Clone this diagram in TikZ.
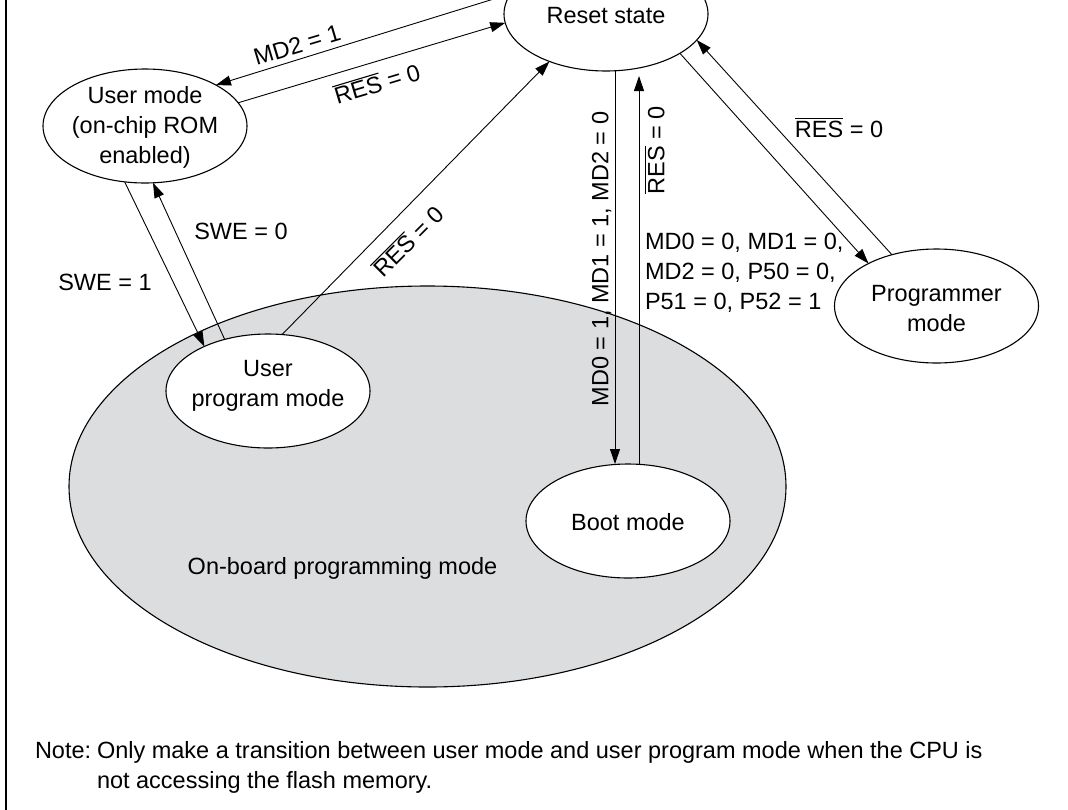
\documentclass[tikz,border=0pt]{standalone}
\usepackage{fontspec}
\setmainfont{Liberation Sans}
\usetikzlibrary{arrows.meta,shapes.geometric}
\definecolor{obgray}{HTML}{DCDDDF}
\newcommand\ovl[1]{\vbox{\hrule height 1.1pt\kern1.6pt\hbox{#1}}}
\begin{document}
\begin{tikzpicture}[x=1pt,y=-1pt,
  every node/.style={font=\fontsize{23.5}{30}\selectfont, inner sep=0pt, outer sep=0pt},
  state/.style={draw, ellipse, fill=white, line width=1.1pt, minimum width=204pt, minimum height=114pt},
  arr/.style={-{Triangle[length=15pt,width=10pt]}, line width=0.9pt},
  txt/.style={align=center}]
\useasboundingbox (0,0) rectangle (1068,809);
\clip (0,0) rectangle (1068,809);
% frame line
\draw[line width=2pt] (6,-2) coordinate (ft) -- (6,811) coordinate (fb);
% on-board programming region
\node[draw, ellipse, fill=obgray, line width=1.1pt, minimum width=717pt, minimum height=401pt] (obp) at (427.5,486.5) {};
\node (obplbl) at (342.5,568) {On-board programming mode};
% states
\node[state] (reset) at (606,14) {};
\node[txt] (resett) at (606,16) {Reset state};
\node[state] (um) at (145,126) {};
\node[txt] (umt) at (145,127) {User mode\\(on-chip ROM\\enabled)};
\node[state] (up) at (268,391) {};
\node[txt] (upt) at (268,386) {User\\program mode};
\node[state] (boot) at (628,521) {};
\node[txt] (boott) at (628,522) {Boot mode};
\node[state] (prog) at (936.5,306) {};
\node[txt] (progt) at (936.5,309) {Programmer\\mode};
% connectors
\draw[arr] (reset.168) -- (um.30);
\draw[arr] (um.14) -- (reset.185);
\draw[arr] (um.-110) -- (up.145);
\draw[arr] (up.130) -- (um.-82);
\draw[arr] (up.76) -- (reset.-140);
\draw[arr] ([xshift=9pt]reset.south) -- ([xshift=-13pt]boot.north);
\draw[arr] ([xshift=11pt]boot.north) -- ([xshift=33pt,yshift=-5pt]reset.south);
\draw[arr] (reset.-28) -- (prog.148);
\draw[arr] (prog.131) -- (reset.-16);
% labels
\node[rotate=16.7] (l1) at (297,45) {MD2 = 1};
\node[rotate=16.7] (l2) at (377,83) {\ovl{RES} = 0};
\node (l3) at (241,231) {SWE = 0};
\node (l4) at (105,282) {SWE = 1};
\node[rotate=45] (l5) at (408,241) {\ovl{RES} = 0};
\node[rotate=90] (l6) at (601.7,259) {MD0 = 1, MD1 = 1, MD2 = 0};
\node[rotate=90] (l7) at (655,150) {\ovl{RES} = 0};
\node (l8) at (839,128) {\ovl{RES} = 0};
\node[align=left, anchor=west] (l9) at (645,273) {MD0 = 0, MD1 = 0,\\MD2 = 0, P50 = 0,\\P51 = 0, P52 = 1};
% note
\node[anchor=base west] (n1) at (35,758) {Note:};
\node[anchor=base west] (n2) at (97,758) {Only make a transition between user mode and user program mode when the CPU is};
\node[anchor=base west] (n3) at (97,788) {not accessing the flash memory.};
\end{tikzpicture}
\end{document}
